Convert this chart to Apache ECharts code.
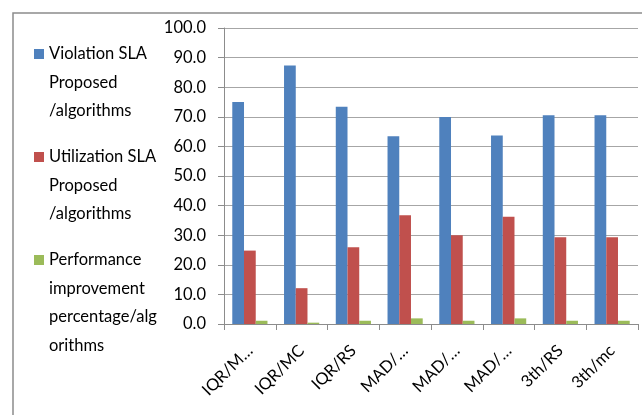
<!DOCTYPE html>
<html>
<head>
<meta charset="utf-8">
<script src="https://cdn.jsdelivr.net/npm/echarts@6/dist/echarts.min.js"></script>
<style>
  html, body { margin: 0; padding: 0; background: #fff; }
  #chart { width: 642px; height: 415px; }
</style>
</head>
<body>
<div id="chart"></div>
<script>
// Algorithm combinations along the x axis
const categories = ['IQR/M…', 'IQR/MC', 'IQR/RS', 'MAD/…', 'MAD/…', 'MAD/…', '3th/RS', '3th/mc'];

// Series values (percent)
const violationSla = [75.0, 87.3, 73.4, 63.4, 69.9, 63.7, 70.5, 70.5];
const utilizationSla = [24.8, 12.1, 25.9, 36.7, 30.0, 36.2, 29.3, 29.3];
const performanceGain = [1.1, 0.45, 1.1, 1.9, 1.1, 1.9, 1.1, 1.1];

// Series names and the way they wrap in the legend
const seriesNames = [
  'Violation SLA Proposed /algorithms',
  'Utilization SLA Proposed /algorithms',
  'Performance improvement percentage/algorithms'
];
const legendLines = [
  ['Violation SLA', 'Proposed', '/algorithms'],
  ['Utilization SLA', 'Proposed', '/algorithms'],
  ['Performance', 'improvement', 'percentage/alg', 'orithms']
];

// Y axis range
const yMin = 0, yMax = 100, yStep = 10;

const colors = ['#4F81BD', '#C0504D', '#9BBB59'];
const font = 'Lato, "Liberation Sans", sans-serif';

// Every legend entry is padded to the same number of lines; blank lines
// before the text put its first line level with the swatch, because
// the legend centres the whole text block on the swatch.
const LEGEND_ROWS = 4;
function legendText(name) {
  const lines = legendLines[seriesNames.indexOf(name)].slice();
  while (lines.length < LEGEND_ROWS) lines.push('');
  const lead = new Array(LEGEND_ROWS - 1).fill('');
  return lead.concat(lines).join('\n');
}

const LINE_H = 28.5;         // legend line spacing
const ENTRY_STEP = 103;      // distance between consecutive swatches
const FIRST_SWATCH_Y = 54;   // centre of the first swatch
const blockH = (2 * LEGEND_ROWS - 1) * LINE_H;

const chart = echarts.init(document.getElementById('chart'), null, { renderer: 'canvas' });

chart.setOption({
  animation: false,
  backgroundColor: '#ffffff',
  color: colors,
  graphic: [{
    type: 'rect',
    silent: true,
    shape: { x: 13, y: 13, width: 720, height: 600 },
    style: { fill: 'none', stroke: '#8c8c8c', lineWidth: 1.5 }
  }],
  legend: {
    orient: 'vertical',
    left: 34,
    top: FIRST_SWATCH_Y - blockH / 2,
    padding: 0,
    itemWidth: 10,
    itemHeight: 10,
    itemGap: ENTRY_STEP - blockH,
    icon: 'rect',
    formatter: legendText,
    textStyle: { fontFamily: font, fontSize: 16.5, lineHeight: LINE_H, color: '#000' },
    data: seriesNames
  },
  grid: { left: 224, right: 4, top: 28, bottom: 91, containLabel: false },
  xAxis: {
    type: 'category',
    data: categories,
    axisLine: { lineStyle: { color: '#8c8c8c', width: 1 } },
    axisTick: { show: true, length: 6, lineStyle: { color: '#8c8c8c' } },
    axisLabel: {
      rotate: 45,
      margin: 24,
      interval: 0,
      fontFamily: font,
      fontSize: 16.5,
      color: '#000'
    }
  },
  yAxis: {
    type: 'value',
    min: yMin,
    max: yMax,
    interval: yStep,
    axisLine: { show: true, lineStyle: { color: '#8c8c8c', width: 1 } },
    axisTick: { show: true, length: 6, lineStyle: { color: '#8c8c8c' } },
    axisLabel: {
      margin: 18,
      fontFamily: font,
      fontSize: 16.5,
      color: '#000',
      formatter: v => v.toFixed(1)
    },
    splitLine: { lineStyle: { color: '#a6a6a6', width: 1 } }
  },
  series: [
    { name: seriesNames[0], type: 'bar', data: violationSla, barGap: '0%', barCategoryGap: '32%' },
    { name: seriesNames[1], type: 'bar', data: utilizationSla, barGap: '0%', barCategoryGap: '32%' },
    { name: seriesNames[2], type: 'bar', data: performanceGain, barGap: '0%', barCategoryGap: '32%' }
  ]
});
</script>
</body>
</html>
